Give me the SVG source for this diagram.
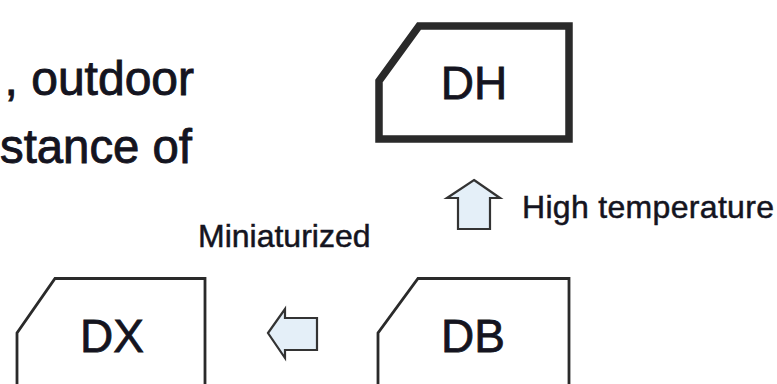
<svg xmlns="http://www.w3.org/2000/svg" width="777" height="384" viewBox="0 0 777 384">
<style>
.t{font-family:"Liberation Sans",Arial,sans-serif;fill:#141420;stroke:#141420}
.big{font-size:48px;stroke-width:0.9}
.lab{font-size:46px;text-anchor:middle;stroke-width:0.8}
.cap{font-size:32px;stroke-width:0.5}
.box{fill:#fff;stroke:#2a2a2a;stroke-linejoin:miter}
.arr{fill:#e4eff8;stroke:#333;stroke-width:2.2;stroke-linejoin:miter}
</style>
<rect width="777" height="384" fill="#fff"/>
<g id="caption">
<text class="t big" x="194" y="95" text-anchor="end">, outdoor</text>
<text class="t big" x="0" y="163" textLength="192" lengthAdjust="spacingAndGlyphs">stance of</text>
</g>
<g id="DH">
<path class="box" d="M419,26 L569,26 L569,139 L379,139 L379,81 Z" stroke-width="7.5"/>
<text class="t lab" x="474" y="99">DH</text>
</g>
<g id="DX">
<path class="box" d="M55,278.5 L205,278.5 L205,400 L17,400 L17,333 Z" stroke-width="2.8"/>
<text class="t lab" x="112" y="352">DX</text>
</g>
<g id="DB">
<path class="box" d="M418,278.5 L569,278.5 L569,400 L378,400 L378,333 Z" stroke-width="2.8"/>
<text class="t lab" x="473" y="352">DB</text>
</g>
<g id="connectors">
<path class="arr" d="M474,180 L500,198 L490,198 L490,229 L458,229 L458,198 L447,198 Z"/>
<path class="arr" d="M268,333 L285,309 L285,318 L317,318 L317,350 L285,350 L285,358 Z"/>
</g>
<g id="labels">
<text class="t cap" x="522" y="218" textLength="252" lengthAdjust="spacing">High temperature</text>
<text class="t cap" x="198" y="247">Miniaturized</text>
</g>
</svg>
